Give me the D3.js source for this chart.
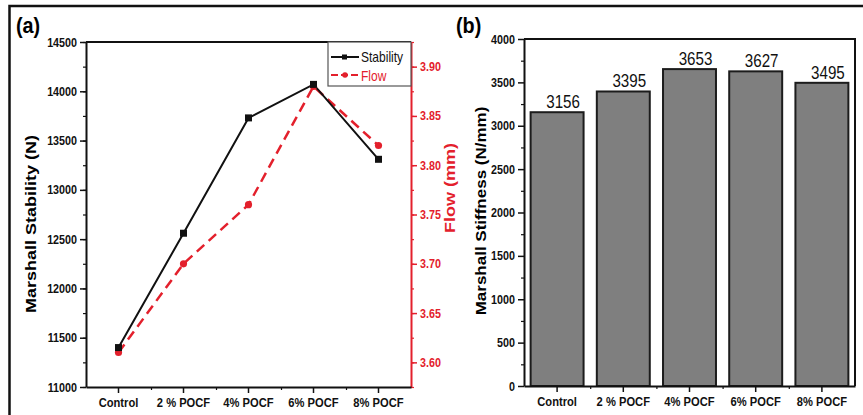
<!DOCTYPE html>
<html><head><meta charset="utf-8">
<script src="https://cdn.jsdelivr.net/npm/d3@7"></script>
<style>body{margin:0;background:#fff}svg{display:block}text{font-family:"Liberation Sans",Arial,sans-serif}</style>
</head><body>
<svg id="c" width="863" height="415"></svg>
<script>
const categories = ["Control", "2 % POCF", "4% POCF", "6% POCF", "8% POCF"];
const stability = [11400, 12560, 13730, 14070, 13310];
const flow = [3.61, 3.70, 3.76, 3.88, 3.82];
const stiffness = [3156, 3395, 3653, 3627, 3495];
const stabilityTicks = [11000, 11500, 12000, 12500, 13000, 13500, 14000, 14500];
const flowTicks = [3.60, 3.65, 3.70, 3.75, 3.80, 3.85, 3.90];
const stiffnessTicks = [0, 500, 1000, 1500, 2000, 2500, 3000, 3500, 4000];

const RED = "#e3202c";
const SX = 0.86;
const svg = d3.select("#c");

function squeeze(sel){
  sel.selectAll(".tick text").each(function(){
    const t = d3.select(this);
    const x = +t.attr("x") || 0;
    t.attr("x", 0).attr("transform", `translate(${x},0) scale(${SX},1)`);
  });
}
function label(x, y, str, o){
  o = o || {};
  let tr = `translate(${x},${y}) scale(${o.sx||SX},1)` + (o.rot ? ` rotate(${o.rot})` : "");
  return svg.append("text").attr("transform", tr)
    .attr("text-anchor", o.anchor || "middle")
    .attr("font-size", o.size || 12)
    .attr("font-weight", o.weight || "bold")
    .attr("fill", o.fill || "#000")
    .text(str);
}
function styleAxis(color, fs){
  return g => {
    g.select(".domain").attr("stroke",color).attr("stroke-width",2);
    g.selectAll("line").attr("stroke",color).attr("stroke-width",1.5);
    g.selectAll("text").attr("font-size",fs).attr("font-weight","bold").attr("fill",color).attr("font-family","Liberation Sans, Arial");
  };
}

// outer frame
svg.append("path").attr("d","M9.5,415 V6 H863").attr("fill","none").attr("stroke","#111").attr("stroke-width",2.5);

// ---------------- Panel (a) ----------------
const aL = 86, aR = 411, aT = 42, aB = 387;
const xA = d3.scaleBand().domain(categories).range([aL, aR]);
const yL = d3.scaleLinear().domain([11000, 14500]).range([aB, aT]);
const yR = d3.scaleLinear().domain([3.575, 3.925]).range([aB, aT]);
const cx = d => xA(d) + xA.bandwidth()/2;

// minor ticks
const minorL = d3.range(11000, 14501, 250);
svg.append("g").attr("transform",`translate(${aL},0)`)
  .call(d3.axisLeft(yL).tickValues(minorL).tickSize(3).tickFormat(""))
  .call(g=>{g.select(".domain").remove(); g.selectAll("line").attr("stroke","#111").attr("stroke-width",1.2);});
const minorR = d3.range(0, 15).map(i => 3.575 + i*0.025);
svg.append("g").attr("transform",`translate(${aR},0)`)
  .call(d3.axisRight(yR).tickValues(minorR).tickSize(3).tickFormat(""))
  .call(g=>{g.select(".domain").remove(); g.selectAll("line").attr("stroke",RED).attr("stroke-width",1.2);});
svg.append("g").attr("transform",`translate(0,${aB})`)
  .call(d3.axisBottom(d3.scaleLinear().domain([0,5]).range([aL,aR])).tickValues([1,2,3,4]).tickSize(3).tickFormat(""))
  .call(g=>{g.select(".domain").remove(); g.selectAll("line").attr("stroke","#111").attr("stroke-width",1.2);});

// left axis
svg.append("g").attr("transform",`translate(${aL},0)`)
  .call(d3.axisLeft(yL).tickValues(stabilityTicks).tickSize(6).tickPadding(3).tickSizeOuter(0).tickFormat(d3.format("d")))
  .call(styleAxis("#111", 12.5)).call(squeeze);
// right axis
svg.append("g").attr("transform",`translate(${aR},0)`)
  .call(d3.axisRight(yR).tickValues(flowTicks).tickSize(6).tickPadding(3).tickSizeOuter(0).tickFormat(d3.format(".2f")))
  .call(styleAxis(RED, 12.5)).call(squeeze);
// bottom axis
svg.append("g").attr("transform",`translate(0,${aB})`)
  .call(d3.axisBottom(xA).tickSize(6).tickPadding(5).tickSizeOuter(0))
  .call(styleAxis("#111", 13)).call(squeeze);
// top frame line
svg.append("line").attr("x1",aL).attr("x2",aR).attr("y1",aT).attr("y2",aT).attr("stroke","#111").attr("stroke-width",2);

// lines
svg.append("path").datum(flow)
  .attr("d", d3.line().x((d,i)=>cx(categories[i])).y(d=>yR(d)))
  .attr("fill","none").attr("stroke",RED).attr("stroke-width",2.5).attr("stroke-dasharray","10,6");
svg.append("path").datum(stability)
  .attr("d", d3.line().x((d,i)=>cx(categories[i])).y(d=>yL(d)))
  .attr("fill","none").attr("stroke","#111").attr("stroke-width",2);
svg.selectAll(".fm").data(flow).join("circle")
  .attr("cx",(d,i)=>cx(categories[i])).attr("cy",d=>yR(d)).attr("r",3.6).attr("fill",RED);
svg.selectAll(".sm").data(stability).join("rect")
  .attr("x",(d,i)=>cx(categories[i])-3.5).attr("y",d=>yL(d)-3.5).attr("width",7).attr("height",7).attr("fill","#111");

// legend
const lg = svg.append("g");
lg.append("rect").attr("x",328).attr("y",aT).attr("width",aR-328).attr("height",44).attr("fill","#fff").attr("stroke","#555").attr("stroke-width",1.2);
lg.append("line").attr("x1",331).attr("x2",359).attr("y1",57).attr("y2",57).attr("stroke","#111").attr("stroke-width",2);
lg.append("rect").attr("x",342).attr("y",54.5).attr("width",5).attr("height",5).attr("fill","#111");
lg.append("line").attr("x1",331).attr("x2",359).attr("y1",75).attr("y2",75).attr("stroke",RED).attr("stroke-width",2).attr("stroke-dasharray","7,3");
lg.append("circle").attr("cx",345).attr("cy",75).attr("r",2.8).attr("fill",RED);
label(361, 62, "Stability", {anchor:"start", size:14, weight:"normal", fill:"#111"});
label(361, 80.5, "Flow", {anchor:"start", size:14, weight:"normal", fill:RED});

// axis titles
label(36, 224, "Marshall Stability (N)", {rot:-90, size:18});
label(455, 188, "Flow (mm)", {rot:-90, size:18, fill:RED});
label(16, 33, "(a)", {anchor:"start", size:22, weight:"600", sx:0.9});

// ---------------- Panel (b) ----------------
const bL = 524, bR = 855, bT = 39, bB = 386;
const xB = d3.scaleBand().domain(categories).range([bL, bR]).paddingInner(0.2).paddingOuter(0.1);
const yB = d3.scaleLinear().domain([0, 4000]).range([bB, bT]);
const bcx = d => xB(d) + xB.bandwidth()/2;

svg.append("g").attr("transform",`translate(${bL},0)`)
  .call(d3.axisLeft(yB).tickValues(d3.range(250,4000,500)).tickSize(3).tickFormat(""))
  .call(g=>{g.select(".domain").remove(); g.selectAll("line").attr("stroke","#111").attr("stroke-width",1.2);});
const step = xB.step();
svg.append("g").attr("transform",`translate(0,${bB})`)
  .call(d3.axisBottom(d3.scaleLinear().domain([0,1]).range([0,1])).tickValues(categories.slice(1).map(c=>xB(c)-step*0.1)).tickSize(3).tickFormat(""))
  .call(g=>{g.select(".domain").remove(); g.selectAll("line").attr("stroke","#111").attr("stroke-width",1.2);});

// bars
svg.selectAll(".bar").data(stiffness).join("rect")
  .attr("x",(d,i)=>xB(categories[i])).attr("y",d=>yB(d))
  .attr("width",xB.bandwidth()).attr("height",d=>bB-yB(d))
  .attr("fill","#7f7f7f").attr("stroke","#1c1c1c").attr("stroke-width",2);

svg.append("g").attr("transform",`translate(${bL},0)`)
  .call(d3.axisLeft(yB).tickValues(stiffnessTicks).tickSize(6).tickPadding(3).tickSizeOuter(0).tickFormat(d3.format("d")))
  .call(styleAxis("#111", 12.5)).call(squeeze);
svg.append("g").attr("transform",`translate(0,${bB})`)
  .call(d3.axisBottom(xB).tickSize(6).tickPadding(5).tickSizeOuter(0))
  .call(styleAxis("#111", 13)).call(squeeze);
svg.append("path").attr("d",`M${bL},${bT} H${bR} V${bB}`).attr("fill","none").attr("stroke","#111").attr("stroke-width",2);

// value labels
stiffness.forEach((v,i)=>{
  label(bcx(categories[i]) + 6, yB(v) - 4, String(v), {size:18.5, weight:"normal", fill:"#111", sx:0.82});
});

label(486, 211, "Marshall Stiffness (N/mm)", {rot:-90, size:17});
label(456, 33, "(b)", {anchor:"start", size:22, weight:"600", sx:0.9});
</script>
</body></html>
